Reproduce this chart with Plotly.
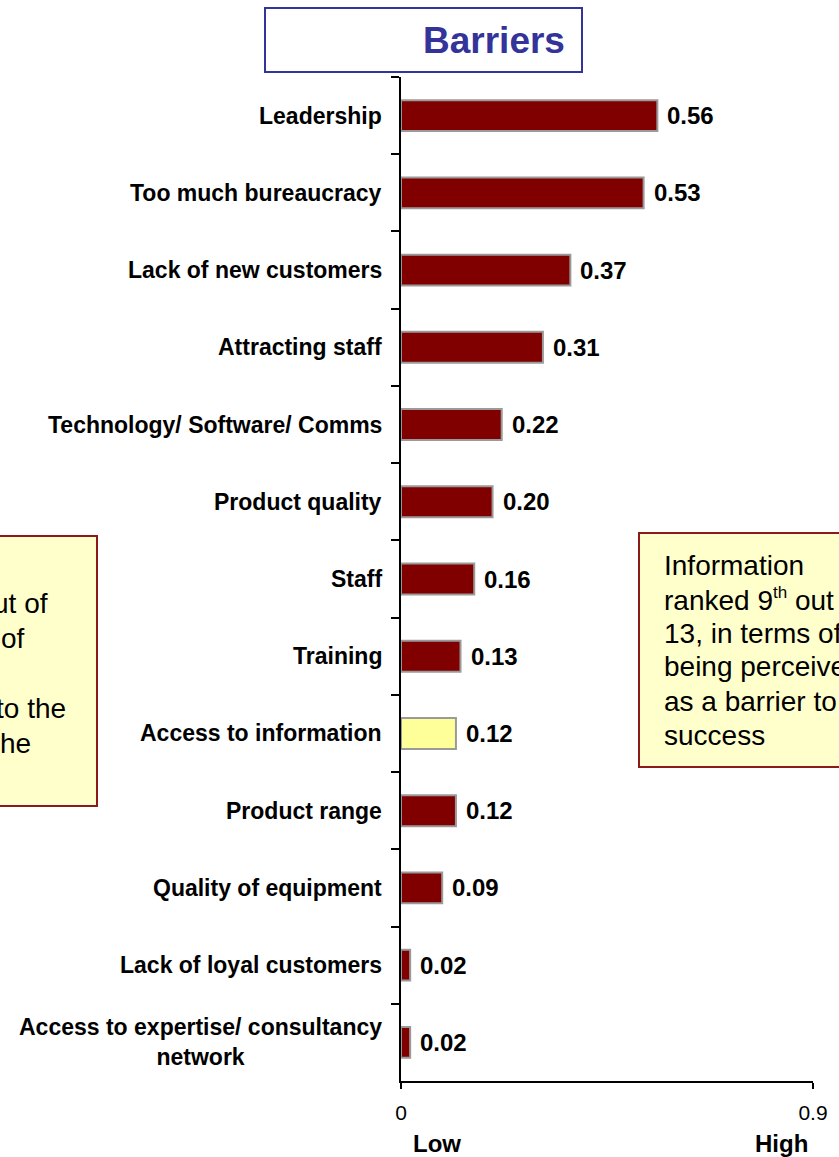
import plotly.graph_objects as go

# ---- data ----
categories = [
    "Leadership",
    "Too much bureaucracy",
    "Lack of new customers",
    "Attracting staff",
    "Technology/ Software/ Comms",
    "Product quality",
    "Staff",
    "Training",
    "Access to information",
    "Product range",
    "Quality of equipment",
    "Lack of loyal customers",
    "Access to expertise/ consultancy<br>network",
]
values = [0.56, 0.53, 0.37, 0.31, 0.22, 0.20, 0.16, 0.13, 0.12, 0.12, 0.09, 0.02, 0.02]
highlight = "Access to information"
x_ticks = [0, 0.9]
x_ticktext = ["0", "0.9"]
title_text = "Barriers"
right_note_lines = ["Information",
                    "ranked 9<sup><span style='font-size:17px'>th</span></sup> out of",
                    "13, in terms of", "being perceived", "as a barrier to", "success"]
left_note_fragments = ["ut of", "of", "", "to the", "he"]

# ---- geometry (pixels) ----
W, H = 839, 1157
L, R, T, B = 401, 813, 77, 1081
def px(x):
    return (x - L) / (R - L)
def py(y):
    return (B - y) / (B - T)

colors = ["#FFFF99" if c == highlight else "#800000" for c in categories]
FONT = "Liberation Sans, Arial"

fig = go.Figure()
fig.add_trace(go.Bar(
    x=values, y=categories, orientation="h",
    marker=dict(color=colors, line=dict(color="#9a9a9a", width=2)),
    hoverinfo="x+y", showlegend=False,
))

annotations = []
# category labels
for c in categories:
    annotations.append(dict(
        x=0, xref="paper", y=c, yref="y", xanchor="right", yanchor="middle",
        xshift=-17, text=f"<b>{c}</b>", showarrow=False, align="center",
        font=dict(family=FONT, size=23, color="black"),
    ))
# value labels
for c, v in zip(categories, values):
    annotations.append(dict(
        x=v, xref="x", y=c, yref="y", xanchor="left", yanchor="middle",
        xshift=8, text=f"<b>{v:.2f}</b>", showarrow=False,
        font=dict(family=FONT, size=24, color="black"),
    ))
# Low / High
annotations.append(dict(x=px(437), xref="paper", y=py(1143), yref="paper",
                        text="<b>Low</b>", showarrow=False, xanchor="center", yanchor="middle",
                        font=dict(family=FONT, size=24, color="black")))
annotations.append(dict(x=px(781), xref="paper", y=py(1143), yref="paper",
                        text="<b>High</b>", showarrow=False, xanchor="center", yanchor="middle",
                        font=dict(family=FONT, size=24, color="black")))
# title
annotations.append(dict(x=px(494), xref="paper", y=py(40), yref="paper",
                        text=f"<b>{title_text}</b>", showarrow=False, xanchor="center", yanchor="middle",
                        font=dict(family=FONT, size=37, color="#333399")))
# right note
for i, line in enumerate(right_note_lines):
    annotations.append(dict(x=px(662), xref="paper", y=py(565 + 34 * i), yref="paper",
                            text=line, showarrow=False, xanchor="left", yanchor="middle",
                            font=dict(family=FONT, size=28, color="black")))
# left note (cut-off fragments)
left_ends = [50, 27, 0, 68, 33]
for i, (frag, xe) in enumerate(zip(left_note_fragments, left_ends)):
    if not frag:
        continue
    annotations.append(dict(x=px(xe), xref="paper", y=py(603 + 35 * i), yref="paper",
                            text=frag, showarrow=False, xanchor="right", yanchor="middle",
                            font=dict(family=FONT, size=28, color="black")))

shapes = [
    dict(type="rect", xref="paper", yref="paper", x0=px(265), x1=px(582), y0=py(8), y1=py(72),
         line=dict(color="#333399", width=2), fillcolor="white", layer="below"),
    dict(type="rect", xref="paper", yref="paper", x0=px(639), x1=px(860), y0=py(533), y1=py(767),
         line=dict(color="#8B1A1A", width=2), fillcolor="#FFFFCC", layer="below"),
    dict(type="rect", xref="paper", yref="paper", x0=px(-10), x1=px(97), y0=py(536), y1=py(806),
         line=dict(color="#8B1A1A", width=2), fillcolor="#FFFFCC", layer="below"),
]

fig.update_layout(
    width=W, height=H,
    margin=dict(l=L, r=W - R, t=T, b=H - B, pad=0),
    paper_bgcolor="white", plot_bgcolor="white",
    bargap=0.6,
    annotations=annotations,
    shapes=shapes,
    font=dict(family=FONT, color="black"),
)
fig.update_xaxes(
    range=[0, 0.9], tickvals=x_ticks, ticktext=x_ticktext,
    showline=True, linecolor="black", linewidth=1.5,
    ticks="outside", ticklen=6, tickcolor="black", tickwidth=1.5,
    ticklabelstandoff=6,
    showgrid=False, zeroline=False,
    tickfont=dict(family=FONT, size=21, color="black"),
)
fig.update_yaxes(
    type="category", range=[len(categories) - 0.5, -0.5],
    showline=True, linecolor="black", linewidth=1.5,
    ticks="outside", ticklen=8, tickcolor="black", tickwidth=1.5,
    tickson="boundaries", showticklabels=False, showgrid=False, zeroline=False,
)

fig.write_html(
    "out.html",
    config={"displayModeBar": False},
    post_script="document.body.style.margin='0';document.body.style.overflow='hidden';",
)
